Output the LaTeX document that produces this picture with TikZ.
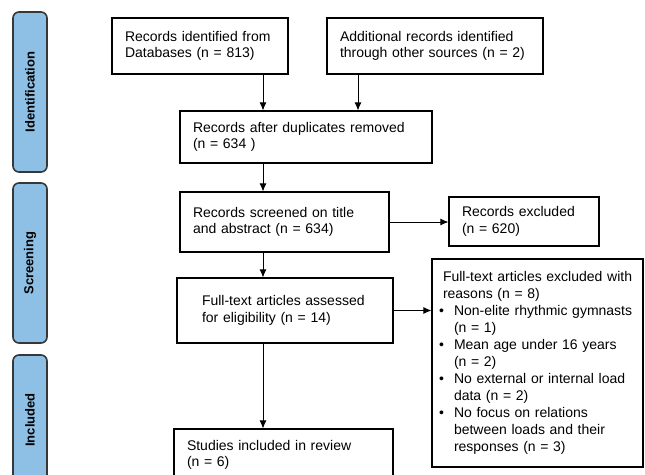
\documentclass[tikz,border=0pt]{standalone}
\usepackage{fontspec}
\setmainfont{Liberation Sans}
\usetikzlibrary{arrows.meta}
\definecolor{phaseblue}{RGB}{142,192,230}
\definecolor{phaseline}{RGB}{55,55,55}
\tikzset{
  flowbox/.style = {shape=rectangle, draw, line width=1.1pt, align=left,
                    inner xsep=13pt, inner ysep=0pt,
                    font=\fontsize{14}{16.5}\selectfont},
  phase/.style   = {shape=rectangle, rounded corners=6pt, draw=phaseline,
                    line width=1.6pt, fill=phaseblue, rotate=90,
                    minimum height=34pt, inner sep=0pt,
                    font=\bfseries\fontsize{13}{15}\selectfont},
  flow/.style    = {draw, -{Latex[length=8pt,width=7pt]}, line width=0.9pt}
}
\newcommand{\bitem}[1]{\mbox{\hspace*{-4pt}\makebox[15pt][l]{\textbullet}#1}}
\newcommand{\bcont}[1]{\mbox{\hspace*{11pt}#1}}
\begin{document}
\begin{tikzpicture}[x=1pt, y=-1pt]
\useasboundingbox (0,0) rectangle (645,474);

% phases
\node[phase, minimum width=160pt] (ident) at (30,92) {Identification};
\node[phase, minimum width=160pt] (screen) at (30,263) {Screening};
\node[phase, minimum width=130pt] (incl) at (30,420) {Included};

% boxes
\node[flowbox, text width=150pt, minimum height=56pt] (db) at (200,46)
  {Records identified from\\Databases (n = 813)};
\node[flowbox, text width=190pt, minimum height=56pt] (other) at (435,46)
  {Additional records identified\\through other sources (n = 2)};
\node[flowbox, text width=226pt, minimum height=52pt] (dup) at (306,137)
  {Records after duplicates removed\\(n = 634 )};
\node[flowbox, text width=183pt, minimum height=60pt] (scr) at (284.5,222)
  {Records screened on title\\and abstract (n = 634)};
\node[flowbox, text width=124pt, minimum height=49pt] (excl) at (524,221.5)
  {Records excluded\\(n = 620)};
\node[flowbox, inner xsep=25pt, text width=166pt, minimum height=65pt] (full) at (285,310.5)
  {Full-text articles assessed\\for eligibility (n = 14)};
\node[flowbox, inner xsep=11pt, text width=189pt, minimum height=208pt,
      font=\fontsize{14}{17}\selectfont] (fexcl) at (537.5,363)
  {\mbox{Full-text articles excluded with}\\
   \mbox{reasons (n = 8)}\\
   \bitem{Non-elite rhythmic gymnasts}\\
   \bcont{(n = 1)}\\
   \bitem{Mean age under 16 years}\\
   \bcont{(n = 2)}\\
   \bitem{No external or internal load}\\
   \bcont{data (n = 2)}\\
   \bitem{No focus on relations}\\
   \bcont{between loads and their}\\
   \bcont{responses (n = 3)}};
\node[flowbox, text width=193pt, minimum height=52pt] (study) at (283.5,455)
  {Studies included in review\\(n = 6)};

% connectors
\coordinate (spine) at (263,0);
\coordinate (side) at (358,0);
\draw[flow] (db.south -| spine) -- (dup.north -| spine);
\draw[flow] (other.south -| side) -- (dup.north -| side);
\draw[flow] (dup.south -| spine) -- (scr.north -| spine);
\draw[flow] (scr.east) -- (scr.east -| excl.west);
\draw[flow] (scr.south -| spine) -- (full.north -| spine);
\draw[flow] (full.east) -- (full.east -| fexcl.west);
\draw[flow] (full.south -| spine) -- (study.north -| spine);

\end{tikzpicture}
\end{document}
